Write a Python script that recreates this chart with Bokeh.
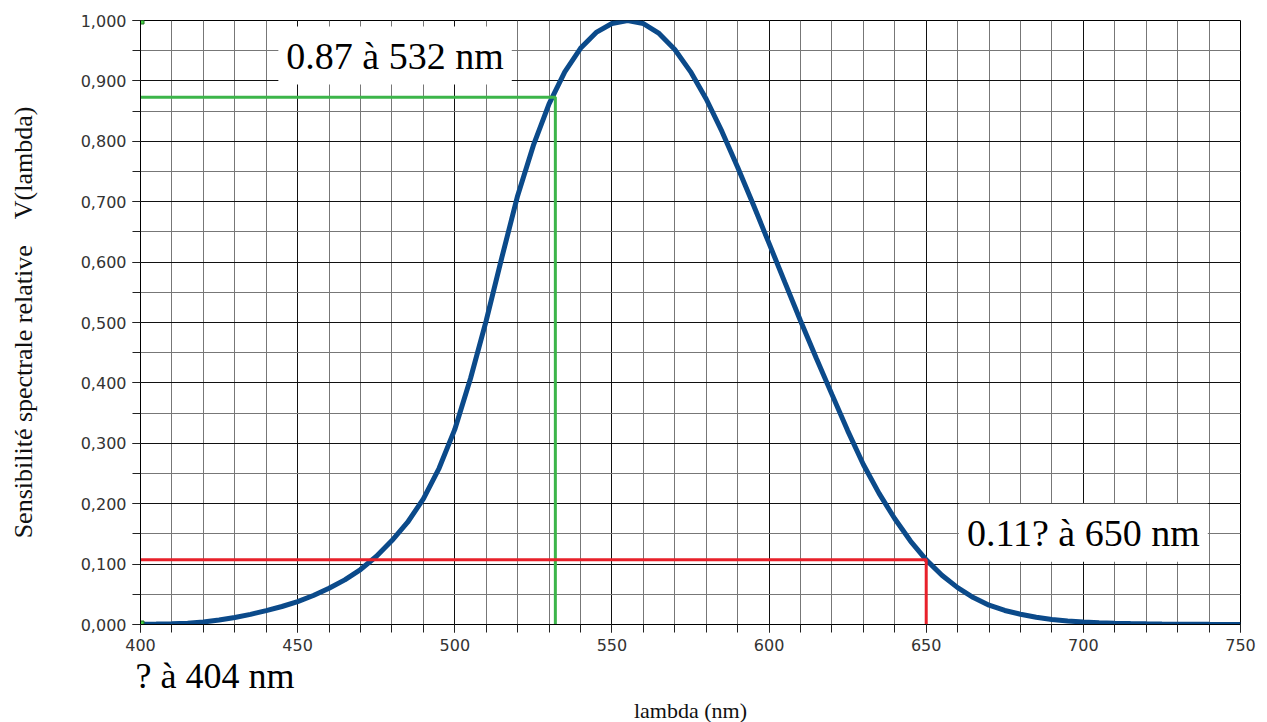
from bokeh.plotting import figure
from bokeh.models import Range1d, FixedTicker, Label, ColumnDataSource, Title
from bokeh.embed import file_html
from bokeh.resources import INLINE

# CIE photopic luminous efficiency V(lambda)
wavelength = [400, 405, 410, 415, 420, 425, 430, 435, 440, 445, 450, 455, 460, 465, 470, 475,
              480, 485, 490, 495, 500, 505, 510, 515, 520, 525, 530, 535, 540, 545, 550, 555,
              560, 565, 570, 575, 580, 585, 590, 595, 600, 605, 610, 615, 620, 625, 630, 635,
              640, 645, 650, 655, 660, 665, 670, 675, 680, 685, 690, 695, 700, 705, 710, 715,
              720, 725, 730, 735, 740, 745, 750]
v_lambda = [0.0004, 0.00064, 0.0012, 0.0022, 0.0040, 0.0073, 0.0116, 0.0168, 0.023, 0.0298,
            0.038, 0.048, 0.060, 0.0739, 0.091, 0.1126, 0.139, 0.1693, 0.208, 0.2586, 0.323,
            0.4073, 0.503, 0.6082, 0.710, 0.7932, 0.862, 0.9149, 0.954, 0.9803, 0.995, 1.0,
            0.995, 0.9786, 0.952, 0.9154, 0.870, 0.8163, 0.757, 0.6949, 0.631, 0.5668, 0.503,
            0.4412, 0.381, 0.321, 0.265, 0.217, 0.175, 0.1382, 0.107, 0.0816, 0.061, 0.0446,
            0.032, 0.0232, 0.017, 0.0119, 0.0082, 0.0057, 0.0041, 0.0029, 0.0021, 0.0015,
            0.00105, 0.00074, 0.00052, 0.00036, 0.00025, 0.00017, 0.00012]

# guide lines
green_x = [400, 532, 532]
green_y = [0.873, 0.873, 0.0]
red_x = [400, 650, 650]
red_y = [0.107, 0.107, 0.0]
marker_x = [400, 400]
marker_y = [0.0, 1.0]

# annotations inside the plot
ann_text = ["0.87 à 532 nm", "0.11? à 650 nm"]
ann_x = [481, 700]
ann_y = [0.942, 0.152]
bottom_note = "? à 404 nm"

x_major = [400, 450, 500, 550, 600, 650, 700, 750]
x_minor = list(range(400, 751, 10))
y_major = [0.0, 0.1, 0.2, 0.3, 0.4, 0.5, 0.6, 0.7, 0.8, 0.9, 1.0]
y_labels = ["0,000", "0,100", "0,200", "0,300", "0,400", "0,500", "0,600", "0,700",
            "0,800", "0,900", "1,000"]
y_minor = [i * 0.05 for i in range(21)]

p = figure(width=1267, height=722, output_backend="svg", toolbar_location=None,
           x_range=Range1d(400, 750), y_range=Range1d(0, 1),
           min_border_left=140, min_border_right=27, min_border_top=20, min_border_bottom=97)
p.background_fill_color = "white"
p.border_fill_color = "white"
p.outline_line_color = "black"
p.outline_line_width = 1

p.xaxis.ticker = FixedTicker(ticks=x_major, minor_ticks=x_minor)
p.yaxis.ticker = FixedTicker(ticks=y_major, minor_ticks=y_minor)
p.xgrid.ticker = p.xaxis.ticker
p.ygrid.ticker = p.yaxis.ticker
p.yaxis.major_label_overrides = {v: s for v, s in zip(y_major, y_labels)}

for ax in (p.xaxis, p.yaxis):
    ax.axis_line_color = "black"
    ax.major_tick_line_color = "#222222"
    ax.minor_tick_line_color = "#222222"
    ax.major_tick_out = 8
    ax.major_tick_in = 0
    ax.minor_tick_out = 8
    ax.minor_tick_in = 0
    ax.major_label_text_font = "DejaVu Sans"
    ax.major_label_text_font_size = "16px"
    ax.major_label_text_color = "#333333"
    ax.axis_label_text_font = "Liberation Serif"
    ax.axis_label_text_font_style = "normal"
    ax.axis_label_text_color = "#111111"

p.xaxis.major_label_standoff = 6
p.yaxis.axis_label = "Sensibilité spectrale relative\u00a0\u00a0\u00a0\u00a0V(lambda)"
p.yaxis.axis_label_text_font_size = "26px"
p.yaxis.major_label_standoff = 6
p.yaxis.axis_label_standoff = 40

for g in (p.xgrid, p.ygrid):
    g.grid_line_color = "#111111"
    g.grid_line_alpha = 1.0
    g.grid_line_width = 1
    g.minor_grid_line_color = "#777777"
    g.minor_grid_line_width = 1

src = ColumnDataSource(dict(x=wavelength, y=v_lambda))
p.line("x", "y", source=src, line_color="#0b4a8a", line_width=5)
p.line(green_x, green_y, line_color="#3cb54a", line_width=3)
p.line(red_x, red_y, line_color="#e8202a", line_width=3)
p.scatter(marker_x, marker_y, marker="square", size=7, fill_color="#44cc44",
          line_color="#227722", line_width=1)

for t, x, y in zip(ann_text, ann_x, ann_y):
    lab = Label(x=x, y=y, text=t, text_font="Liberation Serif", text_font_size="38px",
                text_align="center", text_baseline="middle", text_color="black",
                background_fill_color="white", padding=8)
    p.add_layout(lab)

note = Title(text=bottom_note, align="left", offset=-5, standoff=0,
             text_font="Liberation Serif", text_font_size="36px",
             text_font_style="normal", text_color="black", text_line_height=0.8)
p.add_layout(note, "below")
xlab = Title(text="lambda (nm)", align="center", standoff=0,
             text_font="Liberation Serif", text_font_size="22px",
             text_font_style="normal", text_color="#111111")
p.add_layout(xlab, "below")

open("out.html", "w").write(file_html(p, INLINE))
